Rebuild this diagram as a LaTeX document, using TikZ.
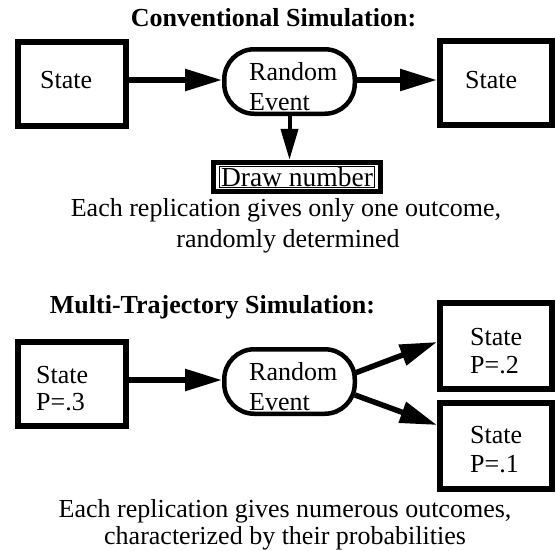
\documentclass[tikz,border=0pt]{standalone}
\usepackage{fontspec}
\setmainfont{Liberation Serif}
\usetikzlibrary{arrows.meta,fit,calc}
\begin{document}
\begin{tikzpicture}[x=1pt,y=-1pt,
 box/.style={draw, line width=6pt, inner sep=0pt},
 evt/.style={draw, line width=4.5pt, rounded corners=30pt, minimum width=130.5pt, minimum height=64.5pt, inner sep=0pt},
 txt/.style={font=\fontsize{26}{30}\selectfont, inner sep=0pt, anchor=base west},
 ctxt/.style={font=\fontsize{26}{30}\selectfont, inner sep=0pt, anchor=base},
 ttl/.style={font=\fontsize{26}{30}\selectfont\bfseries, inner sep=0pt, anchor=base},
 arr/.style={line width=5.5pt, -{Triangle[length=37pt,width=21pt]}},
 darr/.style={line width=4pt, -{Triangle[length=31pt,width=17pt]}},
]
\useasboundingbox (0,0) rectangle (556,550);

% ---- Conventional simulation ----
\node[ttl] (T1) at (273.5,26) {Conventional Simulation:};
\node[box, minimum width=108pt, minimum height=84pt] (L1) at (72,84) {};
\node[txt] (L1t) at (40,88.5) {State};
\node[evt] (E1) at (289.5,81.5) {};
\node[txt] (E1a) at (249,80.5) {Random};
\node[txt] (E1b) at (249,110.5) {Event};
\node[box, minimum width=112pt, minimum height=84pt] (R1) at (496,83) {};
\node[txt] (R1t) at (465,88.5) {State};
\coordinate (y1) at (0,80);
\draw[arr] (L1.east |- y1) -- (E1.west |- y1);
\draw[arr] (E1.east |- y1) -- (R1.west |- y1);

\node[font=\fontsize{27.5}{31}\selectfont, draw, line width=1pt, inner xsep=2pt, inner ysep=0.5pt] (DN) at (297,177) {Draw number};
\node[fit=(DN), draw, line width=5pt, inner xsep=5pt, inner ysep=4pt] (DNF) {};
\draw[darr] (E1.south) -- (E1.south |- DNF.north);

\node[ctxt] (c1) at (286,216.5) {Each replication gives only one outcome,};
\node[ctxt] (c2) at (288,247.5) {randomly determined};

% ---- Multi-trajectory simulation ----
\node[ttl] (T2) at (212.5,313) {Multi-Trajectory Simulation:};
\node[box, minimum width=108pt, minimum height=84pt] (L2) at (72,384) {};
\node[txt] (L2a) at (36,383) {State};
\node[txt] (L2b) at (36,410) {P=.3};
\node[evt] (E2) at (289.5,381.5) {};
\node[txt] (E2a) at (249,380.5) {Random};
\node[txt] (E2b) at (249,410.5) {Event};
\node[box, minimum width=112pt, minimum height=86pt] (TR) at (496,346) {};
\node[txt] (TRa) at (470,345) {State};
\node[txt] (TRb) at (470,373) {P=.2};
\node[box, minimum width=112pt, minimum height=86pt] (BR) at (496,446) {};
\node[txt] (BRa) at (470,443.5) {State};
\node[txt] (BRb) at (470,472) {P=.1};
\coordinate (y2) at (0,380);
\draw[arr] (L2.east |- y2) -- (E2.west |- y2);
\draw[arr] ($(E2.east)+(-2,-8.5)$) -- ($(TR.west)+(0,-4)$);
\draw[arr] ($(E2.east)+(-2,13.5)$) -- ($(BR.west)+(0,-21)$);

\node[ctxt] (d1) at (285,517) {Each replication gives numerous outcomes,};
\node[ctxt] (d2) at (285,544) {characterized by their probabilities};
\end{tikzpicture}
\end{document}
